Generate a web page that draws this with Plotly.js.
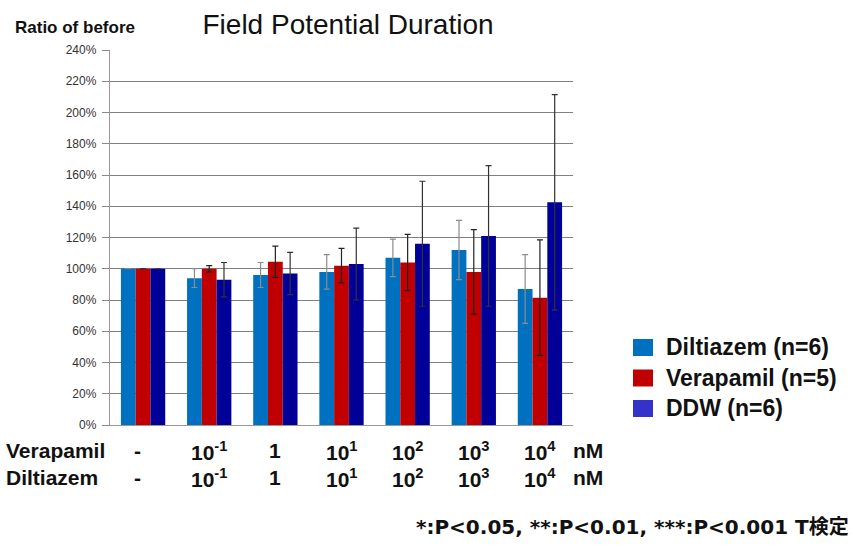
<!DOCTYPE html>
<html>
<head>
<meta charset="utf-8">
<script src="https://cdn.plot.ly/plotly-3.0.1.min.js"></script>
<style>html,body{margin:0;padding:0;background:#fff;}#chart{width:853px;height:547px;}</style>
</head>
<body>
<div id="chart"></div>
<script>
const categories = [0, 1, 2, 3, 4, 5, 6];
const verapamilLabels = ["-", "10<sup>-1</sup>", "1", "10<sup>1</sup>", "10<sup>2</sup>", "10<sup>3</sup>", "10<sup>4</sup>"];
const diltiazemLabels = ["-", "10<sup>-1</sup>", "1", "10<sup>1</sup>", "10<sup>2</sup>", "10<sup>3</sup>", "10<sup>4</sup>"];
const rowLabels = ["Verapamil", "Diltiazem"];
const unitLabel = "nM";
const diltiazemVals = [100, 94, 96, 98, 107, 112, 87];
const diltiazemErr  = [0, 6, 8, 11, 12, 19, 22];
const verapamilVals = [100, 100, 104.5, 102, 104, 98, 81.5];
const verapamilErr  = [0, 2, 10, 11, 18, 27, 37];
const ddwVals = [100, 93, 97, 103, 116, 121, 142.5];
const ddwErr  = [0, 11, 13.5, 23, 40, 45, 69];
const seriesNames = ["Diltiazem (n=6)", "Verapamil (n=5)", "DDW (n=6)"];

const barColors = ["#0070C0", "#C00000", "#000099"];
const legendColors = ["#0070C0", "#C00000", "#3333CC"];
const errColors = ["#8c8c8c", "#222222", "#333333"];
const vals = [diltiazemVals, verapamilVals, ddwVals];
const errs = [diltiazemErr, verapamilErr, ddwErr];
const FONT = 'Liberation Sans, Arial, sans-serif';

const traces = [];
for (let i = 0; i < 3; i++) {
  traces.push({
    type: 'bar', x: categories, y: vals[i], name: seriesNames[i], showlegend: false,
    marker: {color: barColors[i], line: {width: 0}},
    error_y: {type: 'data', array: errs[i], visible: true, color: errColors[i], thickness: 1.2, width: 3}
  });
}

const ann = [];
const shapes = [];
ann.push({text: '<b>Ratio of before</b>', xref: 'paper', yref: 'paper', x: -0.209, y: 1.061, xanchor: 'left', yanchor: 'middle', showarrow: false, font: {size: 17, family: FONT, color: '#111'}});
const rowY = [-0.069, -0.141];
const rowVals = [verapamilLabels, diltiazemLabels];
for (let r = 0; r < 2; r++) {
  ann.push({text: '<b>' + rowLabels[r] + '</b>', xref: 'paper', yref: 'paper', x: -0.229, y: rowY[r], xanchor: 'left', yanchor: 'middle', showarrow: false, font: {size: 21, family: FONT, color: '#111'}});
  for (let i = 0; i < categories.length; i++) {
    ann.push({text: '<b>' + rowVals[r][i] + '</b>', xref: 'x', yref: 'paper', x: categories[i], y: rowY[r], xanchor: 'center', yanchor: 'middle', xshift: i === 0 ? -6 : 0, showarrow: false, font: {size: 21, family: FONT, color: '#111'}});
  }
  ann.push({text: '<b>' + unitLabel + '</b>', xref: 'paper', yref: 'paper', x: 0.996, y: rowY[r], xanchor: 'left', yanchor: 'middle', showarrow: false, font: {size: 21, family: FONT, color: '#111'}});
}
ann.push({text: '<b>*:P<0.05, **:P<0.01, ***:P<0.001 T検定</b>', xref: 'paper', yref: 'paper', x: 1.6, y: -0.272, xanchor: 'right', yanchor: 'middle', showarrow: false, font: {size: 20, family: 'DejaVu Sans, Noto Sans CJK JP', color: '#111'}});

// manual legend
for (let i = 0; i < 3; i++) {
  const yTop = 0.2293 - i * 0.0813;
  shapes.push({type: 'rect', xref: 'paper', yref: 'paper', x0: 1.1296, x1: 1.1728, y0: yTop - 0.0453, y1: yTop, fillcolor: legendColors[i], line: {width: 0}});
  ann.push({text: '<b>' + seriesNames[i] + '</b>', xref: 'paper', yref: 'paper', x: 1.196, y: yTop - 0.0226, xanchor: 'left', yanchor: 'middle', showarrow: false, font: {size: 23, family: FONT, color: '#111'}});
}

const layout = {
  width: 853, height: 547,
  margin: {l: 110, r: 280, t: 50, b: 122},
  paper_bgcolor: '#fff', plot_bgcolor: '#fff',
  font: {family: FONT, color: '#111'},
  title: {text: 'Field Potential Duration', x: 0.408, xanchor: 'center', y: 0.956, yanchor: 'middle', font: {size: 28, family: FONT, color: '#111'}},
  barmode: 'group', bargap: 0.33, bargroupgap: 0,
  xaxis: {range: [-0.5, 6.5], showticklabels: false, ticks: '', showgrid: false, zeroline: false, showline: true, linecolor: '#999', linewidth: 1, fixedrange: true},
  yaxis: {range: [0, 240], dtick: 20, ticksuffix: '%', ticks: 'outside', ticklen: 7, tickcolor: '#888', ticklabelstandoff: 3, showgrid: true, gridcolor: '#808080', gridwidth: 1, showline: true, linecolor: '#999', linewidth: 1.2, zeroline: false, tickfont: {size: 12, color: '#333', family: FONT}},
  showlegend: false,
  shapes: shapes,
  annotations: ann
};
Plotly.newPlot('chart', traces, layout, {displayModeBar: false, staticPlot: true});
</script>
</body>
</html>
